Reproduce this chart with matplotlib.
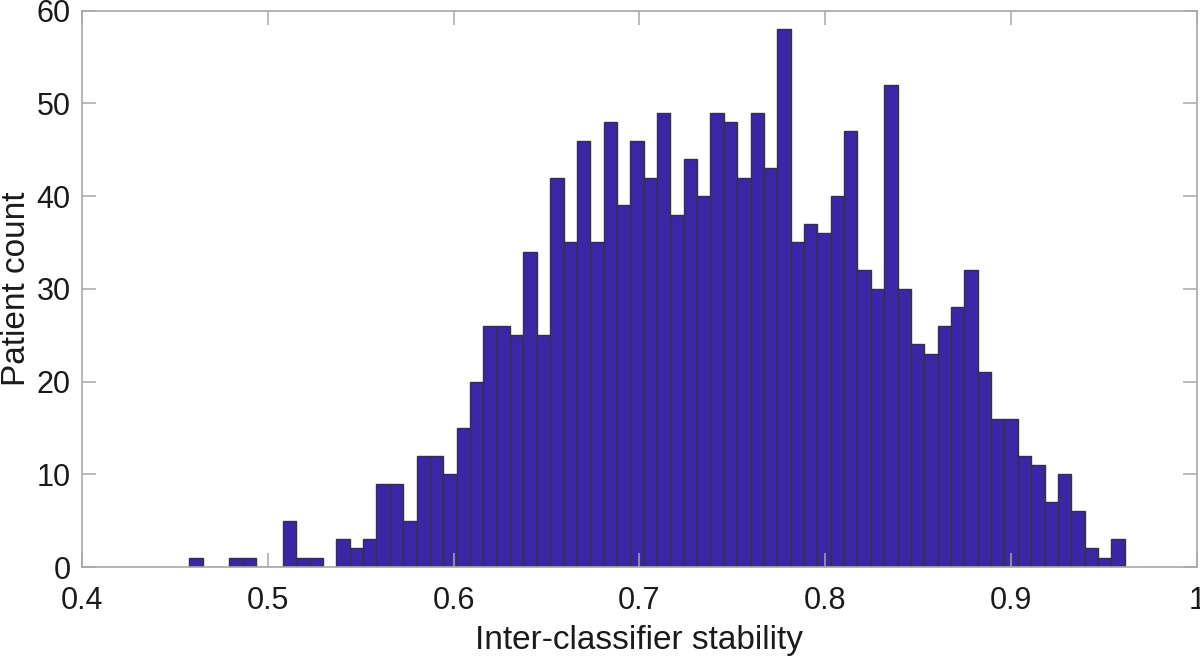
import matplotlib
matplotlib.use("Agg")
import matplotlib.pyplot as plt
import numpy as np

# histogram: 70 bins of width ~0.0072 starting at ~0.4578
BIN_START = 0.4578
BIN_WIDTH = 0.00719
counts = [
    1, 0, 0, 1, 1, 0, 0, 5, 1, 1,
    0, 3, 2, 3, 9, 9, 5, 12, 12, 10,
    15, 20, 26, 26, 25, 34, 25, 42, 35, 46,
    35, 48, 39, 46, 42, 49, 38, 44, 40, 49,
    48, 42, 49, 43, 58, 35, 37, 36, 40, 47,
    32, 30, 52, 30, 24, 23, 26, 28, 32, 21,
    16, 16, 12, 11, 7, 10, 6, 2, 1, 3,
]
x_ticks = [0.4, 0.5, 0.6, 0.7, 0.8, 0.9, 1.0]
x_tick_labels = ["0.4", "0.5", "0.6", "0.7", "0.8", "0.9", "1"]
y_ticks = [0, 10, 20, 30, 40, 50, 60]

plt.rcParams["font.family"] = ["Liberation Sans", "DejaVu Sans"]

edges = BIN_START + BIN_WIDTH * np.arange(len(counts) + 1)

fig = plt.figure(figsize=(12, 6.61), dpi=100)
ax = fig.add_axes([0.0683, 0.1422, 0.9292, 0.8416])

ax.bar(edges[:-1], counts, width=BIN_WIDTH, align="edge", color="#3a26a6",
       edgecolor="#333340", linewidth=1.0)

ax.set_xlim(0.4, 1.0)
ax.set_ylim(0, 60)
ax.set_xticks(x_ticks)
ax.set_xticklabels(x_tick_labels)
ax.set_yticks(y_ticks)

grey = "#a8a8a8"
for s in ax.spines.values():
    s.set_color(grey)
    s.set_linewidth(1.2)
ax.tick_params(direction="in", length=10, width=1.1, color=grey,
               labelsize=22, labelcolor="#1a1a1a", top=True, right=True)
ax.tick_params(axis="x", pad=14)
ax.tick_params(axis="y", pad=8)

ax.set_xlabel("Inter-classifier stability", fontsize=24, color="#1a1a1a", labelpad=6)
ax.set_ylabel("Patient count", fontsize=24, color="#1a1a1a")
ax.yaxis.set_label_coords(-0.0448, 0.5)

fig.savefig("out.png", dpi=100)
